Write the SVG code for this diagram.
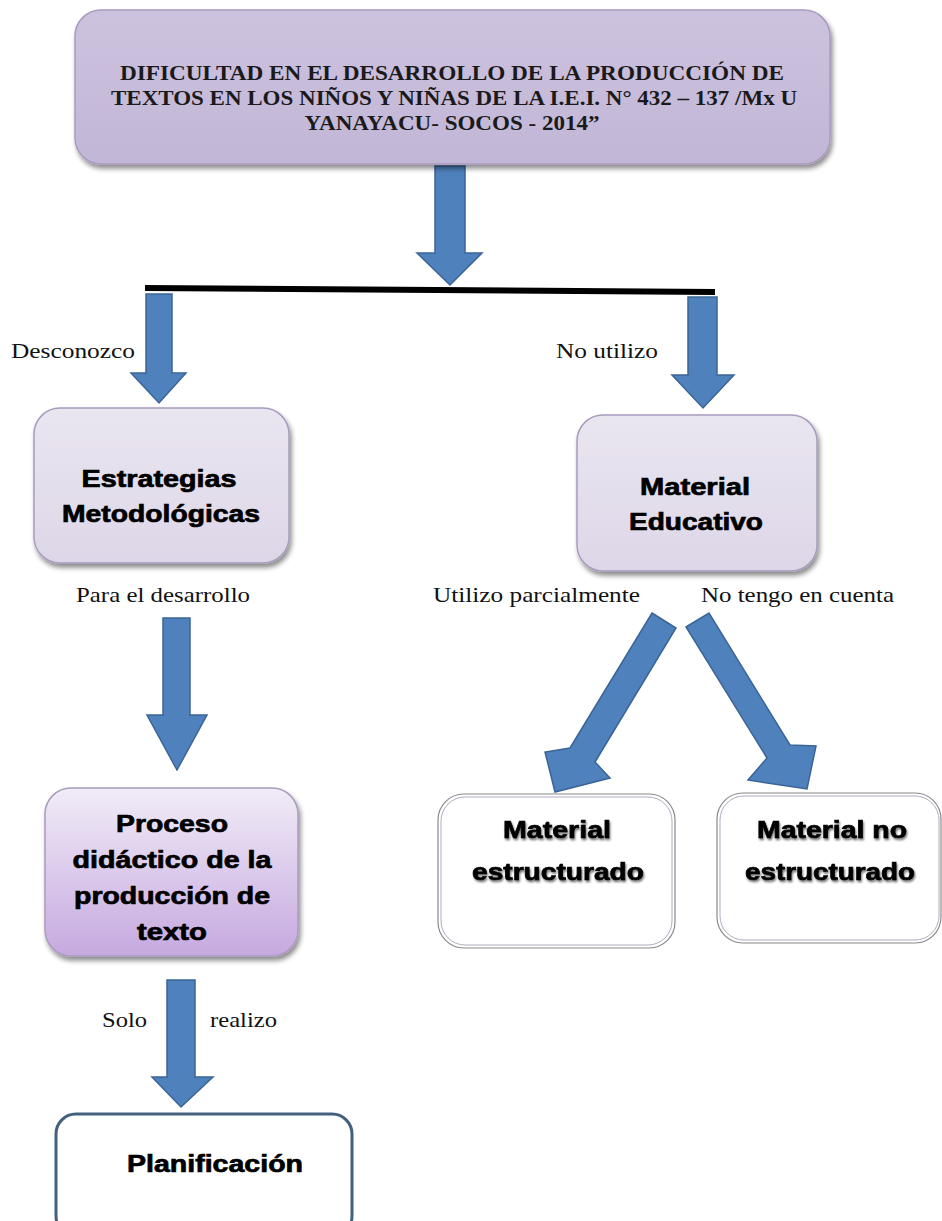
<svg xmlns="http://www.w3.org/2000/svg" width="942" height="1221" viewBox="0 0 942 1221">
<defs>
  <linearGradient id="gTop" x1="0" y1="0" x2="0" y2="1">
    <stop offset="0" stop-color="#CDC2DE"/>
    <stop offset="1" stop-color="#C2B6D7"/>
  </linearGradient>
  <linearGradient id="gLight" x1="0" y1="0" x2="0" y2="1">
    <stop offset="0" stop-color="#EAE6F0"/>
    <stop offset="1" stop-color="#DDD6E8"/>
  </linearGradient>
  <linearGradient id="gProc" x1="0" y1="0" x2="0" y2="1">
    <stop offset="0" stop-color="#F1ECF7"/>
    <stop offset="1" stop-color="#C6A9E0"/>
  </linearGradient>
  <filter id="sh" x="-10%" y="-10%" width="130%" height="130%">
    <feGaussianBlur in="SourceAlpha" stdDeviation="2.5"/>
    <feOffset dx="2" dy="4" result="b"/>
    <feComponentTransfer><feFuncA type="linear" slope="0.45"/></feComponentTransfer>
    <feMerge><feMergeNode/><feMergeNode in="SourceGraphic"/></feMerge>
  </filter>
  <filter id="tsh" x="-10%" y="-20%" width="130%" height="150%">
    <feGaussianBlur in="SourceAlpha" stdDeviation="1.2"/>
    <feOffset dx="1" dy="2" result="b"/>
    <feComponentTransfer><feFuncA type="linear" slope="0.55"/></feComponentTransfer>
    <feMerge><feMergeNode/><feMergeNode in="SourceGraphic"/></feMerge>
  </filter>
</defs>
<style>
  .arrow { fill: #4F81BD; stroke: #3B6496; stroke-width: 1.5; stroke-linejoin: miter; }
  .title { font-family: "Liberation Serif", "Times New Roman", serif; font-weight: bold; font-size: 20px; fill: #1a1a1a; text-anchor: middle; }
  .lbl { font-family: "Liberation Serif", "Times New Roman", serif; font-size: 22px; fill: #111; }
  .node { font-family: "Liberation Sans", Arial, sans-serif; font-weight: bold; font-size: 24px; fill: #000; stroke: #000; stroke-width: 0.7; text-anchor: middle; }
  .box { stroke: #A99CBF; stroke-width: 1.5; }
  .wbox { fill: #fff; stroke: #8A8A8A; stroke-width: 1.2; }
</style>

<g id="connectors">
  <polygon class="arrow" points="435,166 465,166 465,253 482,253 450,285 417,253 435,253"/>
  <path d="M145,288 L715,292" stroke="#000" stroke-width="6" fill="none"/>
  <polygon class="arrow" points="146,294 172,294 172,373 186,373 159,403 131,373 146,373"/>
  <polygon class="arrow" points="688,297 717,297 717,375 734,375 703,408 672,375 688,375"/>
  <polygon class="arrow" points="163,618 190,618 190,715 207,715 177,770 147,715 163,715"/>
  <polygon class="arrow" points="167,980 195,980 195,1077 213,1077 181,1107 152,1077 167,1077"/>
  <polygon class="arrow" points="652,613 676,628 595,762 610,778 555,792 545,752 570,748"/>
  <polygon class="arrow" points="686,627 709,613 790,745 816,746 807,789 748,780 767,758"/>
</g>

<g id="node-title">
  <rect x="75" y="10" width="755" height="154" rx="26" fill="url(#gTop)" class="box" filter="url(#sh)"/>
  <text class="title" x="452" y="80" textLength="664" lengthAdjust="spacingAndGlyphs">DIFICULTAD EN EL DESARROLLO DE LA PRODUCCIÓN DE</text>
  <text class="title" x="454" y="105" textLength="686" lengthAdjust="spacingAndGlyphs">TEXTOS EN LOS NIÑOS Y NIÑAS DE LA I.E.I. N° 432 – 137 /Mx U</text>
  <text class="title" x="452" y="130" textLength="295" lengthAdjust="spacingAndGlyphs">YANAYACU- SOCOS - 2014”</text>
</g>

<g id="label-desconozco"><text class="lbl" x="11" y="358" textLength="124" lengthAdjust="spacingAndGlyphs">Desconozco</text></g>
<g id="label-noutilizo"><text class="lbl" x="556" y="358" textLength="102" lengthAdjust="spacingAndGlyphs">No utilizo</text></g>

<g id="node-estrategias">
  <rect x="34" y="408" width="255" height="155" rx="26" fill="url(#gLight)" class="box" filter="url(#sh)"/>
  <text class="node" x="159" y="487" textLength="155" lengthAdjust="spacingAndGlyphs">Estrategias</text>
  <text class="node" x="161" y="522" textLength="198" lengthAdjust="spacingAndGlyphs">Metodológicas</text>
</g>

<g id="node-material">
  <rect x="577" y="415" width="240" height="156" rx="26" fill="url(#gLight)" class="box" filter="url(#sh)"/>
  <text class="node" x="695" y="495" textLength="110" lengthAdjust="spacingAndGlyphs">Material</text>
  <text class="node" x="696" y="530" textLength="134" lengthAdjust="spacingAndGlyphs">Educativo</text>
</g>

<g id="label-para"><text class="lbl" x="76" y="602" textLength="174" lengthAdjust="spacingAndGlyphs">Para el desarrollo</text></g>
<g id="label-utilizo"><text class="lbl" x="433" y="602" textLength="207" lengthAdjust="spacingAndGlyphs">Utilizo parcialmente</text></g>
<g id="label-notengo"><text class="lbl" x="701" y="602" textLength="193" lengthAdjust="spacingAndGlyphs">No tengo en cuenta</text></g>

<g id="node-proceso">
  <rect x="45" y="788" width="253" height="168" rx="26" fill="url(#gProc)" class="box" filter="url(#sh)"/>
  <text class="node" x="172" y="832" textLength="112" lengthAdjust="spacingAndGlyphs">Proceso</text>
  <text class="node" x="172" y="868" textLength="199" lengthAdjust="spacingAndGlyphs">didáctico de la</text>
  <text class="node" x="172" y="904" textLength="196" lengthAdjust="spacingAndGlyphs">producción de</text>
  <text class="node" x="172" y="940" textLength="70" lengthAdjust="spacingAndGlyphs">texto</text>
</g>

<g id="label-solo"><text class="lbl" x="102" y="1027" textLength="45" lengthAdjust="spacingAndGlyphs">Solo</text></g>
<g id="label-realizo"><text class="lbl" x="210" y="1027" textLength="67" lengthAdjust="spacingAndGlyphs">realizo</text></g>

<g id="node-estructurado">
  <rect x="438" y="794" width="237" height="154" rx="26" class="wbox"/>
  <rect x="441" y="797" width="231" height="148" rx="24" fill="none" stroke="#B3ABC0" stroke-width="1"/>
  <text class="node" x="557" y="838" textLength="108" lengthAdjust="spacingAndGlyphs" filter="url(#tsh)">Material</text>
  <text class="node" x="558" y="880" textLength="172" lengthAdjust="spacingAndGlyphs" filter="url(#tsh)">estructurado</text>
</g>

<g id="node-noestructurado">
  <rect x="717" y="793" width="224" height="150" rx="26" class="wbox"/>
  <rect x="720" y="796" width="219" height="144" rx="24" fill="none" stroke="#B3ABC0" stroke-width="1"/>
  <text class="node" x="832" y="838" textLength="150" lengthAdjust="spacingAndGlyphs" filter="url(#tsh)">Material no</text>
  <text class="node" x="830" y="880" textLength="170" lengthAdjust="spacingAndGlyphs" filter="url(#tsh)">estructurado</text>
</g>

<g id="node-planificacion">
  <rect x="56" y="1114" width="296" height="122" rx="20" fill="#fff" stroke="#44607F" stroke-width="3"/>
  <text class="node" x="215" y="1172" textLength="176" lengthAdjust="spacingAndGlyphs">Planificación</text>
</g>
</svg>
